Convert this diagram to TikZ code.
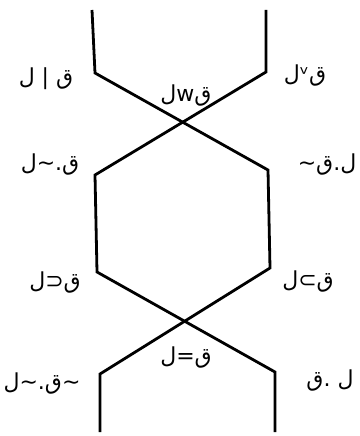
\documentclass[tikz,border=0pt]{standalone}
\usepackage{fontspec}
\TeXXeTstate=1
\newfontfamily\arabicfont[Script=Arabic]{DejaVu Sans}
\begin{document}
\begin{tikzpicture}[x=1pt,y=-1pt,
  edge/.style={line width=2.8pt, line join=miter},
  lab/.style={font=\arabicfont\fontsize{22}{26}\selectfont, inner sep=0pt, anchor=center}]
\useasboundingbox (0,0) rectangle (359,436);
% corner points
\coordinate (t1) at (92,10);
\coordinate (a1) at (95,73);
\coordinate (t2) at (266,10);
\coordinate (a2) at (266,72);
\coordinate (h1) at (95,175);
\coordinate (h2) at (268,170);
\coordinate (h3) at (97,272);
\coordinate (h4) at (270,268);
\coordinate (b1) at (100,374);
\coordinate (b2) at (275,372);
\coordinate (e1) at (100,432);
\coordinate (e2) at (275,432);
\draw[edge] (t1) -- (a1) -- (h2) -- (h4) -- (b1) -- (e1);
\draw[edge] (t2) -- (a2) -- (h1) -- (h3) -- (b2) -- (e2);
% labels
\node[lab] (l1) at (46,79) {\beginR ق | ل\endR};
\node[lab] (l2) at (186,96) {\beginR قwل\endR};
\node[lab] (l3) at (305,76) {\beginR قᵛل\endR};
\node[lab] (l4) at (50,165) {\beginR ق.\char"007E ل\endR};
\node[lab] (l5) at (327,165) {\beginR ل.ق\char"007E\endR};
\node[lab] (l6) at (55,283) {\beginR ق⊂ل\endR};
\node[lab] (l7) at (308,282) {\beginR ق⊃ل\endR};
\node[lab] (l8) at (186,358) {\beginR ق=ل\endR};
\node[lab] (l9) at (42,384) {\beginR \char"007E ق.\char"007E ل\endR};
\node[lab] (l10) at (330,381) {\beginR ل .ق\endR};
\end{tikzpicture}
\end{document}
